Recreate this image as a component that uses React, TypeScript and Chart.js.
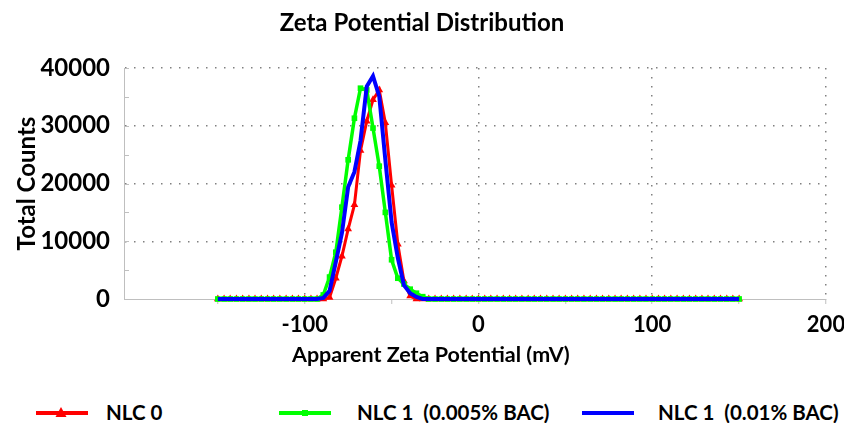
import React, { useEffect, useRef } from "react";
import { Chart, registerables } from "chart.js";

Chart.register(...registerables);

// Apparent zeta potential (mV) sample positions
const zeta = [
  -150.0, -146.4, -142.9, -139.3, -135.7, -132.1, -128.6, -125.0, -121.4, -117.9,
  -114.3, -110.7, -107.1, -103.6, -100.0, -96.4, -92.9, -89.3, -85.7, -82.1,
  -78.6, -75.0, -71.4, -67.9, -64.3, -60.7, -57.1, -53.6, -50.0, -46.4,
  -42.9, -39.3, -35.7, -32.1, -28.6, -25.0, -21.4, -17.9, -14.3, -10.7,
  -7.1, -3.6, 0.0, 3.6, 7.1, 10.7, 14.3, 17.9, 21.4, 25.0,
  28.6, 32.1, 35.7, 39.3, 42.9, 46.4, 50.0, 53.6, 57.1, 60.7,
  64.3, 67.9, 71.4, 75.0, 78.6, 82.1, 85.7, 89.3, 92.9, 96.4,
  100.0, 103.6, 107.1, 110.7, 114.3, 117.9, 121.4, 125.0, 128.6, 132.1,
  135.7, 139.3, 142.9, 146.4, 150.0,
];

// NLC 0
const nlc0 = [
  0, 0, 0, 0, 0, 0, 0, 0, 0, 0,
  0, 0, 0, 0, 0, 0, 0, 0, 250, 3600,
  7400, 12100, 16300, 25700, 30800, 34500, 36200, 30500, 19700, 9500,
  3100, 500, 0, 0, 0, 0, 0, 0, 0, 0,
  0, 0, 0, 0, 0, 0, 0, 0, 0, 0,
  0, 0, 0, 0, 0, 0, 0, 0, 0, 0,
  0, 0, 0, 0, 0, 0, 0, 0, 0, 0,
  0, 0, 0, 0, 0, 0, 0, 0, 0, 0,
  0, 0, 0, 0, 0,
];

// NLC 1 (0.005% BAC)
const nlc1Bac005 = [
  0, 0, 0, 0, 0, 0, 0, 0, 0, 0,
  0, 0, 0, 0, 0, 0, 0, 700, 3800, 8100,
  15900, 24100, 31300, 36500, 36200, 29600, 23000, 15000, 6800, 3600,
  2600, 1700, 1000, 400, 0, 0, 0, 0, 0, 0,
  0, 0, 0, 0, 0, 0, 0, 0, 0, 0,
  0, 0, 0, 0, 0, 0, 0, 0, 0, 0,
  0, 0, 0, 0, 0, 0, 0, 0, 0, 0,
  0, 0, 0, 0, 0, 0, 0, 0, 0, 0,
  0, 0, 0, 0, 0,
];

// NLC 1 (0.01% BAC)
const nlc1Bac001 = [
  0, 0, 0, 0, 0, 0, 0, 0, 0, 0,
  0, 0, 0, 0, 0, 0, 0, 200, 1400, 6400,
  11400, 19400, 22000, 27400, 36800, 38600, 35100, 24100, 13300, 7100,
  2400, 1000, 350, 0, 0, 0, 0, 0, 0, 0,
  0, 0, 0, 0, 0, 0, 0, 0, 0, 0,
  0, 0, 0, 0, 0, 0, 0, 0, 0, 0,
  0, 0, 0, 0, 0, 0, 0, 0, 0, 0,
  0, 0, 0, 0, 0, 0, 0, 0, 0, 0,
  0, 0, 0, 0, 0,
];

const seriesNames = ["NLC 0", "NLC 1  (0.005% BAC)", "NLC 1  (0.01% BAC)"];
const chartTitle = "Zeta Potential Distribution";
const xAxisTitle = "Apparent Zeta Potential (mV)";
const yAxisTitle = "Total Counts";
const xTickValues = [-150, -100, -50, 0, 50, 100, 150, 200];
const xLabelValues = [-100, 0, 100, 200];
const yTickValues = [0, 5000, 10000, 15000, 20000, 25000, 30000, 35000, 40000];
const yLabelValues = [0, 10000, 20000, 30000, 40000];

const FONT = "Lato, 'Open Sans', sans-serif";
const RED = "#ff0000";
const GREEN = "#00ff00";
const BLUE = "#0000ff";
const GRID = "#808080";
const AXIS = "#bfbfbf";

const innerTicks = {
  id: "innerTicks",
  afterDraw(chart: any) {
    const ctx = chart.ctx;
    const ys = chart.scales.y;
    const left = chart.chartArea.left;
    ctx.save();
    ctx.strokeStyle = AXIS;
    ctx.lineWidth = 1;
    for (const v of yTickValues) {
      const py = Math.round(ys.getPixelForValue(v)) + 0.5;
      ctx.beginPath();
      ctx.moveTo(left, py);
      ctx.lineTo(left + 5, py);
      ctx.stroke();
    }
    ctx.restore();
  },
};

function Legend() {
  const items = [
    { name: seriesNames[0], color: RED, marker: "triangle", lineX: 36, textX: 106 },
    { name: seriesNames[1], color: GREEN, marker: "square", lineX: 279, textX: 357 },
    { name: seriesNames[2], color: BLUE, marker: "none", lineX: 582, textX: 658 },
  ];
  return (
    <>
      {items.map((it) => (
        <React.Fragment key={it.name}>
          <svg
            width={54}
            height={14}
            style={{ position: "absolute", left: it.lineX, top: 406 }}
          >
            <line x1={0} y1={7} x2={52} y2={7} stroke={it.color} strokeWidth={4} />
            {it.marker === "triangle" && (
              <polygon points="25,1 30.5,11 19.5,11" fill={it.color} />
            )}
            {it.marker === "square" && <rect x={23} y={4} width={6} height={6} fill={it.color} />}
          </svg>
          <div
            style={{
              position: "absolute",
              left: it.textX,
              top: 398,
              fontFamily: FONT,
              fontWeight: 700,
              fontSize: 20.5,
              lineHeight: "28px",
              color: "#000",
              whiteSpace: "pre",
            }}
          >
            {it.name}
          </div>
        </React.Fragment>
      ))}
    </>
  );
}

export default function App() {
  const canvasRef = useRef<HTMLCanvasElement | null>(null);

  useEffect(() => {
    const canvas = canvasRef.current;
    if (!canvas) return;
    const mk = (ys: number[]) => zeta.map((x, i) => ({ x, y: ys[i] }));
    const chart = new Chart(canvas, {
      type: "line",
      data: {
        datasets: [
          {
            label: seriesNames[0],
            data: mk(nlc0),
            borderColor: RED,
            backgroundColor: RED,
            borderWidth: 3,
            pointStyle: "triangle",
            pointRadius: 4.5,
            pointBorderWidth: 0,
            tension: 0,
            clip: 8,
            order: 3,
          },
          {
            label: seriesNames[1],
            data: mk(nlc1Bac005),
            borderColor: GREEN,
            backgroundColor: GREEN,
            borderWidth: 3.5,
            pointStyle: "rect",
            pointRadius: 4,
            pointBorderWidth: 0,
            tension: 0,
            clip: 8,
            order: 2,
          },
          {
            label: seriesNames[2],
            data: mk(nlc1Bac001),
            borderColor: BLUE,
            backgroundColor: BLUE,
            borderWidth: 4,
            pointRadius: 0,
            tension: 0,
            clip: 8,
            order: 1,
          },
        ],
      },
      options: {
        animation: false,
        responsive: false,
        devicePixelRatio: 1,
        layout: { padding: { left: 0, right: 18, top: 68, bottom: 0 } },
        plugins: {
          legend: { display: false },
          tooltip: { enabled: false },
          title: { display: false },
        },
        scales: {
          x: {
            type: "linear",
            min: -204,
            max: 200,
            afterBuildTicks: (scale: any) => {
              scale.ticks = xTickValues.map((v) => ({ value: v }));
            },
            afterFit: (scale: any) => {
              scale.height = 81;
              scale.paddingLeft = 0;
              scale.paddingRight = 0;
            },
            ticks: {
              autoSkip: false,
              maxRotation: 0,
              color: "#000",
              padding: 8,
              font: { family: FONT, size: 22, weight: "bold" },
              callback: (v: any) => (xLabelValues.includes(v) ? String(v) : ""),
            },
            grid: {
              drawTicks: true,
              tickLength: 5,
              color: (c: any) =>
                c.tick && xLabelValues.includes(c.tick.value) ? GRID : "rgba(0,0,0,0)",
              lineWidth: 1.5,
              tickColor: AXIS,
              tickWidth: 1,
              tickBorderDash: [],
            },
            border: { display: true, color: AXIS, width: 1, dash: [1.5, 7.5] },
            title: { display: false },
          },
          y: {
            min: 0,
            max: 40000,
            afterBuildTicks: (scale: any) => {
              scale.ticks = yTickValues.map((v) => ({ value: v }));
            },
            afterFit: (scale: any) => {
              scale.width = 124;
            },
            ticks: {
              color: "#000",
              padding: 14,
              font: { family: FONT, size: 24, weight: "bold" },
              callback: (v: any) => (yLabelValues.includes(v) ? String(v) : ""),
            },
            grid: {
              drawTicks: false,
              color: (c: any) =>
                c.tick && c.tick.value !== 0 && yLabelValues.includes(c.tick.value)
                  ? GRID
                  : "rgba(0,0,0,0)",
              lineWidth: 1.5,
            },
            border: { display: true, color: AXIS, width: 1, dash: [1.5, 7.5] },
            title: {
              display: true,
              text: yAxisTitle,
              color: "#000",
              font: { family: FONT, size: 24, weight: "bold" },
              padding: { top: 13, bottom: 0 },
            },
          },
        },
      },
      plugins: [innerTicks],
    } as any);
    return () => chart.destroy();
  }, []);

  return (
    <div
      style={{
        position: "absolute",
        left: 0,
        top: 0,
        width: 844,
        height: 423,
        background: "#fff",
        overflow: "hidden",
      }}
    >
      <canvas
        ref={canvasRef}
        width={844}
        height={380}
        style={{ position: "absolute", left: 0, top: 0, width: 844, height: 380 }}
      />
      <div
        style={{
          position: "absolute",
          left: 0,
          width: 844,
          top: 6,
          textAlign: "center",
          fontFamily: FONT,
          fontWeight: 700,
          fontSize: 24,
          lineHeight: "32px",
          color: "#000",
          whiteSpace: "pre",
        }}
      >
        {chartTitle}
      </div>
      <div
        style={{
          position: "absolute",
          left: 292,
          top: 340,
          fontFamily: FONT,
          fontWeight: 700,
          fontSize: 21.5,
          lineHeight: "28px",
          color: "#000",
          whiteSpace: "pre",
        }}
      >
        {xAxisTitle}
      </div>
      <Legend />
    </div>
  );
}
